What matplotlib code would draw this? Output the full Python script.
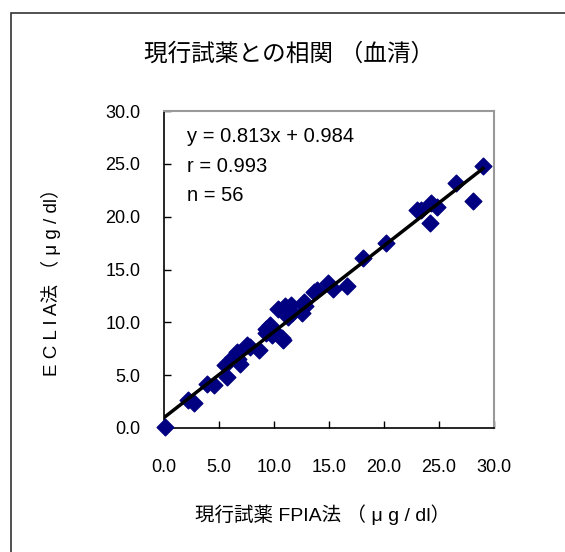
import matplotlib
matplotlib.use('Agg')
import matplotlib.pyplot as plt
from matplotlib.patches import Rectangle
from matplotlib.ticker import FormatStrFormatter

plt.rcParams['font.family'] = ['Liberation Sans', 'Noto Sans CJK JP']

# 現行試薬 FPIA法 (x) vs ECLIA法 (y), µg/dl
fpia = [0.1, 2.2, 2.7, 3.9, 4.5, 5.7, 5.5, 6.3, 6.6, 6.9, 6.7, 7.5, 7.8, 8.6,
        9.3, 9.3, 9.6, 9.8, 10.1, 10.7, 10.8, 10.4, 11.0, 11.5, 11.6, 11.3,
        12.7, 12.8, 12.5, 13.6, 13.9, 14.9, 15.4, 16.6, 18.1, 20.2, 23.0,
        23.4, 24.3, 24.8, 24.2, 26.5, 28.1, 29.0]
eclia = [0.1, 2.65, 2.4, 4.2, 4.1, 4.85, 5.95, 6.75, 7.2, 6.1, 6.5, 7.85, 7.7,
         7.4, 8.95, 9.4, 9.75, 8.8, 9.1, 8.5, 8.3, 11.3, 11.5, 11.6, 10.85,
         10.5, 11.95, 11.5, 10.85, 12.9, 13.05, 13.7, 13.2, 13.4, 16.05, 17.5,
         20.6, 20.6, 21.3, 20.9, 19.4, 23.15, 21.5, 24.8]

slope = 0.813
intercept = 0.984
r_value = 0.993
n_count = 56
fit_x = [0.0, 29.0]
fit_y = [intercept + slope * v for v in fit_x]

ticks = [0, 5, 10, 15, 20, 25, 30]

fig = plt.figure(figsize=(5.65, 5.52), dpi=100)
fig.patches.append(Rectangle((11 / 565, -0.1), 1.2, 1.1 - 12.5 / 552,
                             transform=fig.transFigure, fill=False,
                             edgecolor='#333333', linewidth=1.2))

ax = fig.add_axes([164 / 565, 1 - 428 / 552, 330 / 565, 317 / 552])
ax.scatter(fpia, eclia, marker='D', s=72, color='#000080', zorder=3, clip_on=False)
ax.plot(fit_x, fit_y, color='black', linewidth=2.5, zorder=4)

ax.set_xlim(0, 30)
ax.set_ylim(0, 30)
ax.set_xticks(ticks)
ax.set_yticks(ticks)
ax.xaxis.set_major_formatter(FormatStrFormatter('%.1f'))
ax.yaxis.set_major_formatter(FormatStrFormatter('%.1f'))
ax.tick_params(axis='x', direction='in', length=5, width=1, pad=22, labelsize=13)
ax.tick_params(axis='y', direction='in', length=5, width=1, pad=17, labelsize=13)

for side in ['left', 'bottom']:
    ax.spines[side].set_color('black')
    ax.spines[side].set_linewidth(1.2)
for side in ['top', 'right']:
    ax.spines[side].set_color('#999999')
    ax.spines[side].set_linewidth(1.5)

notes = [f'y = {slope}x + {intercept}', f'r = {r_value}', f'n = {n_count}']
for i, note in enumerate(notes):
    ax.text(0.07, 0.918 - i * 0.092, note, transform=ax.transAxes,
            fontsize=14.5, va='center', ha='left')

fig.text(289 / 565, 1 - 54 / 552, '現行試薬との相関 （血清）', fontsize=17,
         ha='center', va='center')
fig.text(323 / 565, 1 - 515 / 552, '現行試薬 FPIA法 （ μ g / dl）', fontsize=14,
         ha='center', va='center')
fig.text(51 / 565, 1 - 278 / 552, 'E C L I A法 （ μ g / dl）', fontsize=13.5,
         ha='center', va='center', rotation=90)

fig.savefig('out.png', dpi=100)
